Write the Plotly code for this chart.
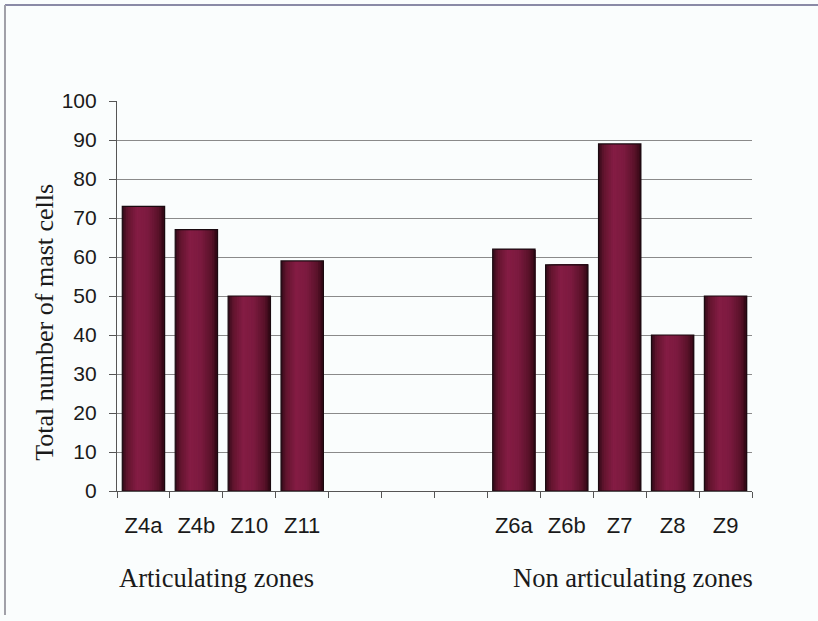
import plotly.graph_objects as go

# ---- data ----
art_zones = ["Z4a", "Z4b", "Z10", "Z11"]
art_values = [73, 67, 50, 59]
gap_slots = [" ", "  ", "   "]
non_zones = ["Z6a", "Z6b", "Z7", "Z8", "Z9"]
non_values = [62, 58, 89, 40, 50]
y_ticks = list(range(0, 101, 10))
group_labels = ["Articulating zones", "Non articulating zones"]
y_title = "Total number of mast cells"

categories = art_zones + gap_slots + non_zones
x_bars = art_zones + non_zones
y_bars = art_values + non_values

# ---- gradient helper ----
stops = [(0.0, (0x30, 0x0a, 0x18)), (0.12, (0x62, 0x14, 0x2e)), (0.35, (0x84, 0x1c, 0x44)),
         (0.6, (0x7c, 0x1a, 0x3f)), (0.85, (0x5a, 0x12, 0x2a)), (1.0, (0x30, 0x08, 0x14))]

def grad(t):
    for (t0, c0), (t1, c1) in zip(stops[:-1], stops[1:]):
        if t0 <= t <= t1:
            f = (t - t0) / (t1 - t0) if t1 > t0 else 0
            return "rgb(%d,%d,%d)" % tuple(round(a + (b - a) * f) for a, b in zip(c0, c1))
    return "rgb(%d,%d,%d)" % stops[-1][1]

BAR_W = 0.8
N = 24
fig = go.Figure()
for i in range(N):
    step = BAR_W / N
    fig.add_trace(go.Bar(
        x=x_bars, y=y_bars,
        width=BAR_W - i * step, offset=-BAR_W / 2 + i * step,
        marker=dict(color=grad((i + 0.5) / N), line=dict(width=0)),
        hoverinfo="skip", showlegend=False,
    ))
# outline
fig.add_trace(go.Bar(
    x=x_bars, y=y_bars, width=BAR_W, offset=-BAR_W / 2,
    marker=dict(color="rgba(0,0,0,0)", line=dict(color="#1a0a10", width=1.2)),
    showlegend=False, name="Total",
))

bg = "#fafdfd"
sans = "Liberation Sans, Arial, sans-serif"
serif = "Liberation Serif, Times New Roman, serif"
fig.update_layout(
    width=818, height=621,
    margin=dict(l=117, r=66, t=101, b=130),
    paper_bgcolor=bg, plot_bgcolor=bg,
    barmode="overlay",
    showlegend=False,
    xaxis=dict(
        type="category", categoryorder="array", categoryarray=categories,
        tickmode="array", tickvals=categories, ticktext=categories,
        tickson="boundaries", ticks="outside", ticklen=6, tickcolor="#555",
        showline=True, linecolor="#555", linewidth=1.2,
        showgrid=False, zeroline=False,
        tickfont=dict(family=sans, size=22, color="#1a1a1a"),
        ticklabelstandoff=14,
        range=[-0.5, len(categories) - 0.5],
    ),
    yaxis=dict(
        range=[0, 100], tickvals=y_ticks,
        ticks="outside", ticklen=7, tickcolor="#555",
        showline=True, linecolor="#555", linewidth=1.2,
        showgrid=True, gridcolor="#8a8a8a", gridwidth=1,
        zeroline=False,
        tickfont=dict(family=sans, size=21, color="#1a1a1a"),
        ticklabelstandoff=8,
    ),
)

fig.add_annotation(text=y_title, textangle=-90, xref="paper", yref="paper",
                   x=-0.1134, y=0.434, xanchor="center", yanchor="middle", showarrow=False,
                   font=dict(family=serif, size=26, color="#1a1a1a"))
fig.add_annotation(text=group_labels[0], xref="paper", yref="paper",
                   x=0.0, y=-0.223, xanchor="left", yanchor="middle", showarrow=False,
                   font=dict(family=serif, size=26.5, color="#1a1a1a"))
fig.add_annotation(text=group_labels[1], xref="paper", yref="paper",
                   x=1.004, y=-0.223, xanchor="right", yanchor="middle", showarrow=False,
                   font=dict(family=serif, size=26.5, color="#1a1a1a"))

# frame lines (top and left)
fig.add_shape(type="line", xref="paper", yref="paper", x0=-0.1764, x1=1.104, y0=1.246, y1=1.246,
              line=dict(color="#8a8aa6", width=2))
fig.add_shape(type="line", xref="paper", yref="paper", x0=-0.1764, x1=-0.1764, y0=1.246, y1=-0.318,
              line=dict(color="#a0a0a8", width=2))

fig.write_html("out.html")
